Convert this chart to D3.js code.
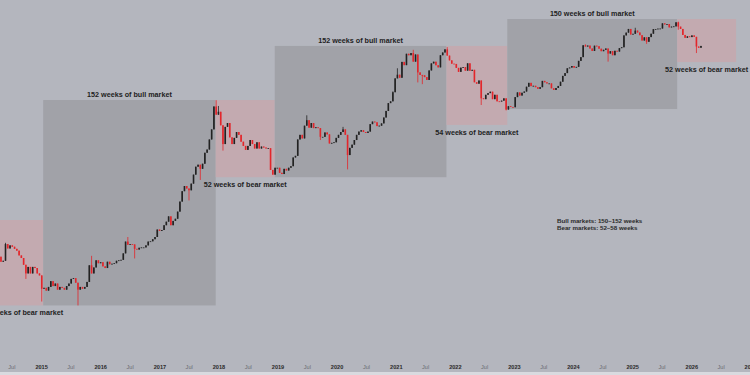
<!DOCTYPE html>
<html><head><meta charset="utf-8">
<script src="https://cdn.jsdelivr.net/npm/d3@7"></script>
<style>html,body{margin:0;padding:0;background:#b4b6be;}svg{display:block}</style>
</head><body>
<svg id="c" width="750" height="375"></svg>
<script>
// ---- data ----
const seriesStart = "2014-04-21";
const periodDays = 14;
const firstOpen = 480;
const closes = [
 // 2014
 490,435,445,660,595,640,620,590,565,505,475,405,330,385,330,385,375,330,315,
 // 2015
 230,235,220,240,275,245,260,225,240,235,225,245,260,290,295,265,225,240,230,240,270,400,330,380,450,420,
 // 2016
 430,390,375,435,410,415,420,445,450,455,530,700,650,660,655,590,580,605,610,610,640,700,705,740,780,930,
 // 2017
 900,920,1030,1120,1270,1030,1140,1200,1420,1800,2300,2600,2450,2350,2750,3400,4100,4300,3900,4400,5700,6150,7800,9900,17000,14000,
 // 2018
 15000,10900,7000,10500,11500,8200,7000,8100,9300,8700,7400,6700,6100,6700,7700,7000,6300,7300,6300,6600,6450,6300,6350,3800,3400,4000,
 // 2019
 4000,3550,3450,3900,3750,4000,4150,5100,5300,7800,8700,8000,10800,12300,10300,11500,10200,10400,10200,8300,8300,9200,8800,7100,7200,7300,
 // 2020
 8100,8700,9300,9900,8700,5400,6400,6900,7700,8700,9400,9700,9300,9100,9400,11200,11900,11700,10700,10800,11400,13100,15300,18400,19200,23800,
 // 2021
 33000,36000,33500,48700,45100,59000,57000,60000,49000,58000,38000,35800,35500,34000,31800,39800,47000,48900,45000,42800,57000,60800,65500,56500,50500,46700,
 // 2022
 46400,42300,38500,42500,43100,39600,47100,39500,40400,30100,29100,31400,20600,20200,22400,23300,24100,20200,22400,19200,19100,19500,20600,15800,17100,16800,
 // 2023
 16700,21200,23700,22000,23500,24200,27100,29700,27500,27700,26800,25800,26800,31100,30100,29300,29300,26100,25100,26300,27600,30500,35000,37400,41900,42600,
 // 2024
 44200,42500,43300,49900,54500,72100,70000,71600,66800,63100,71400,70500,66500,62700,64800,66800,59300,62800,57000,63300,62200,67400,68800,91000,97200,106000,
 // 2025 - 2026
 93000,94500,102000,97500,91500,80700,87000,78300,87500,94700,105600,105800,106800,107100,121000,118000,119000,110000,112000,112700,124000,112000,106000,92000,86000,89000,87500,91000,88000,70000,68000,71000
];
const wickHighs = [
 ["2014-06-02",680],["2015-11-16",500],["2016-06-27",780],["2018-01-08",17200],
 ["2017-12-25",19700],["2019-07-08",13800],["2020-02-17",10500],["2020-12-21",24300],
 ["2021-01-18",41900],["2021-04-26",64800],["2021-11-22",69000],["2024-03-25",73800],
 ["2025-01-27",109000],["2025-10-20",126000]
];
const wickLows = [
 ["2014-10-06",290],["2015-01-12",170],["2015-08-24",155],["2016-08-08",470],
 ["2017-07-10",1850],["2017-09-18",3000],["2018-02-05",6000],["2019-09-30",7700],
 ["2020-03-16",3850],["2021-05-24",30000],["2021-06-21",28800],["2022-06-20",17600],
 ["2022-11-21",15500],["2024-08-12",49000],["2025-04-07",74500],["2025-10-20",104000],
 ["2026-02-09",60000]
];
const boxStart = ["2013-12-04","2015-01-14","2017-12-15","2018-12-15","2021-11-10","2022-11-21","2025-10-06"];
const boxEnd   = ["2015-01-14","2017-12-15","2018-12-15","2021-11-10","2022-11-21","2025-10-06","2026-10-05"];
const boxLow   = [155,155,3200,3200,11000,16000,48500];
const boxHigh  = [1165,19800,19800,71000,71000,134000,134000];
const boxKind  = ["bear","bull","bear","bull","bear","bull","bear"];
const boxWeeks = [58,152,52,152,54,150,52];
const tickDates = ["2014-07-01","2015-01-01","2015-07-01","2016-01-01","2016-07-01","2017-01-01","2017-07-01",
 "2018-01-01","2018-07-01","2019-01-01","2019-07-01","2020-01-01","2020-07-01","2021-01-01","2021-07-01",
 "2022-01-01","2022-07-01","2023-01-01","2023-07-01","2024-01-01","2024-07-01","2025-01-01","2025-07-01",
 "2026-01-01","2026-07-01","2027-01-01"];
const tickLabels = ["Jul","2015","Jul","2016","Jul","2017","Jul","2018","Jul","2019","Jul","2020","Jul","2021","Jul",
 "2022","Jul","2023","Jul","2024","Jul","2025","Jul","2026","Jul","2027"];
const statLines = ["Bull markets: 150\u2013152 weeks","Bear markets: 52\u201358 weeks"];

// ---- drawing ----
const W = 750, H = 375;
const parse = d3.timeParse("%Y-%m-%d");
const svg = d3.select("#c");
const FONT = "'Liberation Sans', Arial, Helvetica, sans-serif";

const x = d3.scaleTime().domain([parse("2014-04-22"), parse("2026-12-30")]).range([0, W]);
const y = d3.scaleLog().domain([30, 210000]).range([H, 0]);

svg.append("rect").attr("width", W).attr("height", H).attr("fill", "#b4b6be");
svg.append("rect").attr("y", H - 3).attr("width", W).attr("height", 3).attr("fill", "#d9dadf");

const fills = {bull: "#a1a2a8", bear: "#c3aab0"};
const boxes = boxStart.map((s, i) => ({
  s: parse(s), e: parse(boxEnd[i]), lo: boxLow[i], hi: boxHigh[i], kind: boxKind[i],
  label: boxWeeks[i] + " weeks of " + boxKind[i] + " market"
}));

svg.append("g").selectAll("rect").data(boxes).join("rect")
  .attr("x", d => x(d.s)).attr("width", d => x(d.e) - x(d.s))
  .attr("y", d => y(d.hi)).attr("height", d => y(d.lo) - y(d.hi))
  .attr("fill", d => fills[d.kind]);

// candles
const start = parse(seriesStart);
const hiMap = new Map(wickHighs.map(d => [d[0], d[1]]));
const loMap = new Map(wickLows.map(d => [d[0], d[1]]));
const fmt = d3.timeFormat("%Y-%m-%d");
const candles = closes.map((c, i) => {
  const date = d3.timeDay.offset(start, periodDays * i);
  const key = fmt(date);
  const o = i === 0 ? firstOpen : closes[i - 1];
  const hi = Math.max(o, c, hiMap.get(key) || 0);
  const lo = Math.min(o, c, loMap.get(key) || Infinity);
  return {mid: d3.timeDay.offset(date, -periodDays / 2), o, c, hi, lo};
});
const cw = 1.6;
const cg = svg.append("g");
cg.selectAll("line").data(candles).join("line")
  .attr("x1", d => x(d.mid)).attr("x2", d => x(d.mid))
  .attr("y1", d => y(d.hi)).attr("y2", d => y(d.lo))
  .attr("stroke", d => d.c >= d.o ? "#222" : "#e3262b").attr("stroke-width", 0.8);
cg.selectAll("rect").data(candles).join("rect")
  .attr("x", d => x(d.mid) - cw / 2).attr("width", cw)
  .attr("y", d => y(Math.max(d.o, d.c)))
  .attr("height", d => Math.max(0.8, Math.abs(y(d.o) - y(d.c))))
  .attr("fill", d => d.c >= d.o ? "#222" : "#e3262b");

// box labels
svg.append("g").selectAll("text").data(boxes).join("text")
  .attr("x", d => (Math.max(0, x(d.s)) + Math.min(W, x(d.e))) / 2)
  .attr("y", d => d.kind === "bull" ? y(d.hi) - 3 : y(d.lo) + 10)
  .attr("text-anchor", "middle")
  .attr("font-family", FONT).attr("font-weight", "bold").attr("font-size", 7.2)
  .attr("fill", "#222").text(d => d.label);

// stats
svg.append("g").selectAll("text").data(statLines).join("text")
  .attr("x", 557).attr("y", (d, i) => 223 + i * 7)
  .attr("font-family", FONT).attr("font-weight", "bold").attr("font-size", 6.2)
  .attr("fill", "#2a2a2a").text(d => d);

// x axis
const ax = d3.axisBottom(x).tickValues(tickDates.map(parse))
  .tickFormat((d, i) => tickLabels[i]).tickSize(0).tickPadding(3);
const gx = svg.append("g").attr("transform", `translate(0,${H - 13})`).call(ax);
gx.select(".domain").remove();
gx.selectAll("text")
  .attr("font-family", FONT).attr("font-size", 5.6)
  .attr("font-weight", (d, i) => tickLabels[i] === "Jul" ? "normal" : "bold")
  .attr("fill", (d, i) => tickLabels[i] === "Jul" ? "#6a6c72" : "#2a2a2a");
</script>
</body></html>
